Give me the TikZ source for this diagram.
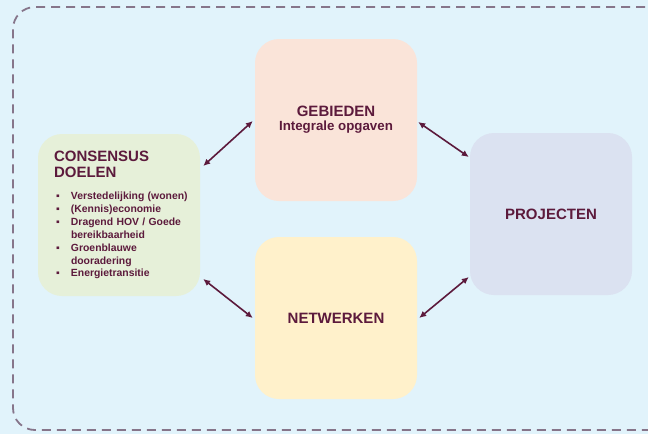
\documentclass[tikz,border=0pt]{standalone}
\usepackage{fontspec}
\setmainfont{Liberation Sans}
\usetikzlibrary{arrows.meta}

\definecolor{skyback}{HTML}{E1F3FB}
\definecolor{greenbox}{HTML}{E6F0D9}
\definecolor{peachbox}{HTML}{FAE4D9}
\definecolor{lilacbox}{HTML}{DBE2F1}
\definecolor{yellowbox}{HTML}{FFF1CB}
\definecolor{wine}{HTML}{5C1A3C}
\definecolor{framegrey}{HTML}{86758A}

\tikzset{
    block/.style = {
        rounded corners=24pt,
        minimum width=162pt,
        minimum height=162pt,
        inner sep=0pt,
        text=wine,
        align=center
    },
    link/.style = {
        {Latex[length=7pt,width=6.5pt]}-{Latex[length=7pt,width=6.5pt]},
        line width=1.6pt,
        wine
    },
    border/.style = {
        dashed,
        dash pattern=on 9pt off 6pt,
        line width=1.8pt,
        framegrey,
        rounded corners=22pt
    }
}

\newcommand{\titlefont}{\fontsize{15}{16}\selectfont\bfseries}
\newcommand{\itembox}{\hspace*{2pt}\makebox[15pt][l]{▪}}

\begin{document}
\begin{tikzpicture}[x=1pt,y=-1pt]
    % Background and frame
    \useasboundingbox (0,0) rectangle (648,434);
    \fill[skyback] (0,0) rectangle (648,434);
    \draw[border] (660,7) -- (13,7) -- (13,430) -- (660,430);

    % Draw all blocks
    \node[block, fill=greenbox, align=left, text width=130pt] (doelen) at (119,215) {%
        \fontsize{10.4}{13}\selectfont\bfseries
        {\titlefont CONSENSUS}\\[3pt]
        {\titlefont DOELEN}\\[9pt]
        \itembox \mbox{Verstedelijking (wonen)}\\
        \itembox (Kennis)economie\\
        \itembox \mbox{Dragend HOV / Goede}\\
        \hspace*{17pt}bereikbaarheid\\
        \itembox Groenblauwe\\
        \hspace*{17pt}dooradering\\
        \itembox Energietransitie};
    \node[block, fill=peachbox] (gebieden) at (336,120)
        {{\titlefont GEBIEDEN}\\[2pt]{\fontsize{13.3}{14}\selectfont\bfseries Integrale opgaven}};
    \node[block, fill=yellowbox] (netwerken) at (336,318) {\titlefont NETWERKEN};
    \node[block, fill=lilacbox] (projecten) at (551,214) {\titlefont PROJECTEN};

    % Draw all links
    \draw[link] ([xshift=3pt,yshift=49pt]doelen.east) -- ([xshift=-2pt,yshift=-1pt]gebieden.west);
    \draw[link] ([xshift=1pt,yshift=-2pt]gebieden.east) -- ([xshift=-1pt,yshift=57pt]projecten.west);
    \draw[link] ([xshift=-1pt,yshift=-63pt]projecten.west) -- ([xshift=2pt]netwerken.east);
    \draw[link] ([xshift=3pt,yshift=-64pt]doelen.east) -- ([xshift=-2pt]netwerken.west);
\end{tikzpicture}
\end{document}
